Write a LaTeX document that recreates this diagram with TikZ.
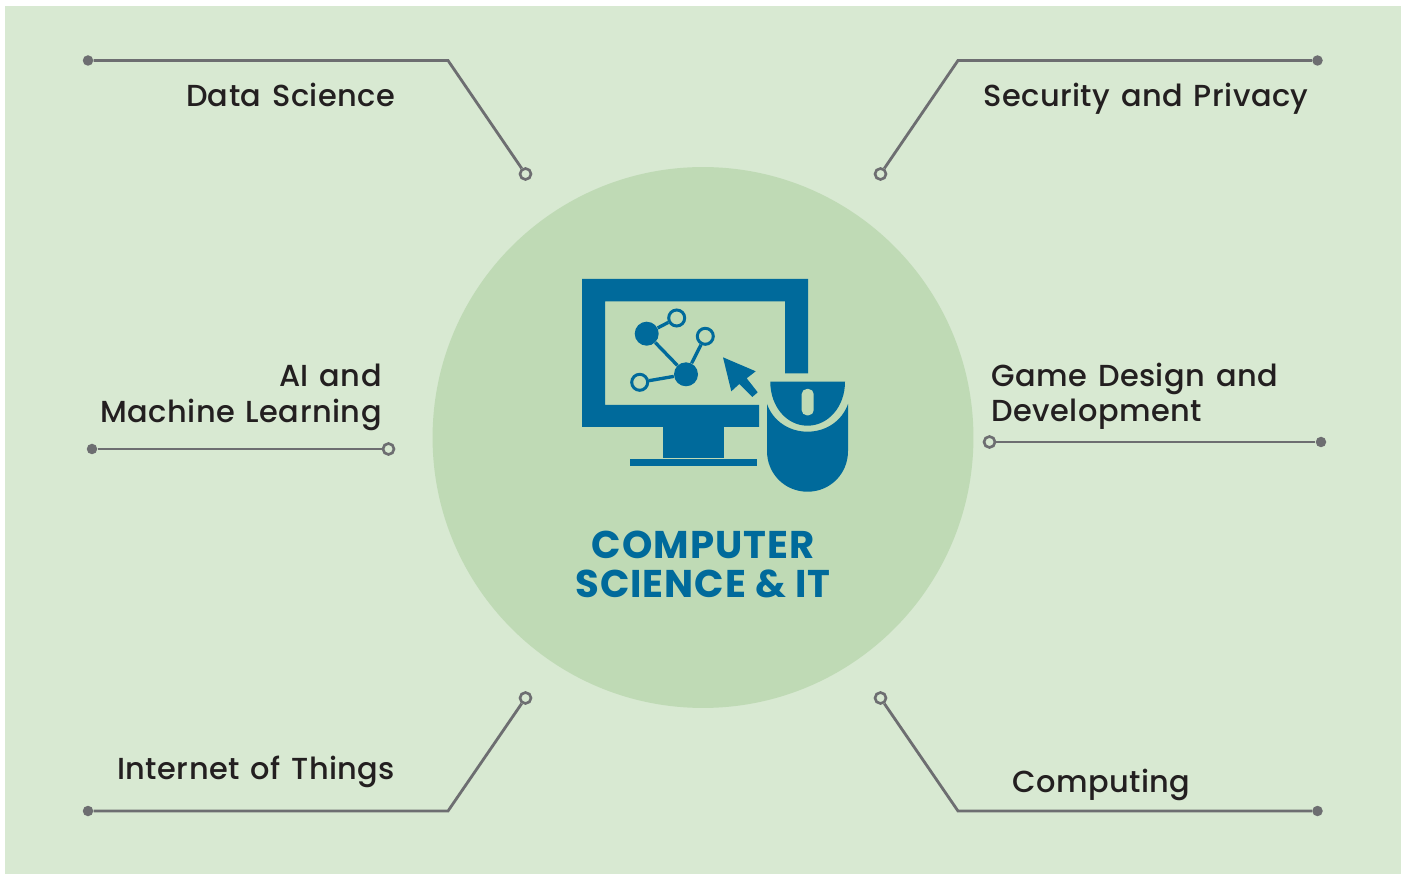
\documentclass[tikz,border=0pt]{standalone}
\usepackage{fontspec}
\setmainfont{Poppins}
\newfontfamily\topicfont[LetterSpace=1.5,WordSpace=1.3]{Poppins Medium}
\newfontfamily\titlefont[LetterSpace=2.5]{Poppins}
\usepackage{xcolor}
\definecolor{pagegreen}{HTML}{D8E9D2}
\definecolor{discgreen}{HTML}{BFDAB5}
\definecolor{iconblue}{HTML}{006A9B}
\definecolor{linegray}{HTML}{6D6E71}
\definecolor{labelblack}{HTML}{231F20}

\begin{document}
\begin{tikzpicture}[x=0.02cm, y=-0.02cm,
    dot/.style = {circle, fill=linegray, inner sep=0pt,
        minimum size = 0.21cm},
    ring/.style = {circle, draw=linegray, fill=pagegreen, line width=1.5pt,
        inner sep=0pt, minimum size = 0.22cm},
    link/.style = {draw=linegray, line width=1.6pt},
    topic/.style = {text=labelblack, font=\topicfont\fontsize{17.3}{20.4}\selectfont, inner sep=0pt},
    hub/.style = {circle, fill=iconblue, inner sep=0pt,
        minimum size = 0.48cm},
    leaf/.style = {circle, draw=iconblue, fill=discgreen, line width=1.7pt,
        inner sep=0pt, minimum size = 0.32cm},
    spoke/.style = {draw=iconblue, line width=1.9pt},
    title/.style = {text=iconblue, font=\titlefont\fontsize{22}{22}\selectfont\bfseries, inner sep=0pt}]

\useasboundingbox (0,0) rectangle (1403,874);

% Background
\fill[pagegreen] (5,6) rectangle (1401,874);
\fill[discgreen] (703,437.5) circle(5.41cm);

% Data Science
\node[dot] (dataDot) at (88,60.5) {};
\coordinate (dataBend) at (448,60.5);
\node[ring] (dataRing) at (525.5,174) {};
\draw[link] (dataDot) -- (dataBend) -- (dataRing);
\node[topic,anchor=base east] (dataText) at (395.5,106.5) {Data Science};

% Security and Privacy
\node[dot] (secDot) at (1317.5,60.5) {};
\coordinate (secBend) at (958,60.5);
\node[ring] (secRing) at (880.5,174) {};
\draw[link] (secDot) -- (secBend) -- (secRing);
\node[topic,anchor=base west] (secText) at (983,106.5) {Security and Privacy};

% AI and Machine Learning
\node[dot] (aiDot) at (92,449) {};
\node[ring] (aiRing) at (388.5,449) {};
\draw[link] (aiDot) -- (aiRing);
\node[topic,anchor=base east] (aiTextA) at (382,386.5) {AI and};
\node[topic,anchor=base east] (aiTextB) at (382,422.5) {Machine Learning};

% Game Design and Development
\node[dot] (gameDot) at (1321,442) {};
\node[ring] (gameRing) at (989.5,442) {};
\draw[link] (gameDot) -- (gameRing);
\node[topic,anchor=base west] (gameTextA) at (991,386.5) {Game Design and};
\node[topic,anchor=base west] (gameTextB) at (991,421.5) {Development};

% Internet of Things
\node[dot] (iotDot) at (88,811) {};
\coordinate (iotBend) at (448,811);
\node[ring] (iotRing) at (525.5,698) {};
\draw[link] (iotDot) -- (iotBend) -- (iotRing);
\node[topic,anchor=base east] (iotText) at (395.5,779) {Internet of Things};

% Computing
\node[dot] (compDot) at (1317.5,811) {};
\coordinate (compBend) at (958,811);
\node[ring] (compRing) at (880.5,698) {};
\draw[link] (compDot) -- (compBend) -- (compRing);
\node[topic,anchor=base west] (compText) at (1012,792) {Computing};

% Monitor
\fill[iconblue] (582,279) -- (808,279) -- (808,373.5) -- (785,373.5) -- (785,301.5)
    -- (605,301.5) -- (605,405) -- (759,405) -- (759,427) -- (582,427) -- cycle;
\fill[iconblue] (663,427) rectangle (724,458);
\fill[iconblue] (630,459.5) rectangle (757,466);

% Graph on the screen
\node[hub] (hubA) at (646.7,333.7) {};
\node[hub] (hubB) at (686,374.3) {};
\node[leaf] (leafA) at (676.7,318) {};
\node[leaf] (leafB) at (705.3,336.3) {};
\node[leaf] (leafC) at (639.7,382.3) {};
\draw[spoke] (hubA) -- (hubB);
\draw[spoke] (hubA) -- (leafA);
\draw[spoke] (hubB) -- (leafB);
\draw[spoke] (hubB) -- (leafC);

% Cursor
\fill[iconblue] (723,357.3) -- (755.7,371.3) -- (746.7,378.3) -- (757.7,392.3)
    -- (752.3,397) -- (739.3,384) -- (731.3,391.3) -- cycle;

% Mouse
\fill[iconblue] (770.3,381.7) -- (845,381.7)
    .. controls (845,407) and (828,425.7) .. (807.5,425.7)
    .. controls (787,425.7) and (770.3,407) .. (770.3,381.7) -- cycle;
\fill[discgreen, rounded corners=2.9pt] (801.7,389) rectangle (813.7,415.3);
\fill[iconblue] (767,404) .. controls (773,421) and (789,431.7) .. (807.5,431.7)
    .. controls (826,431.7) and (842,421) .. (848,404) -- (848,451)
    .. controls (848,474) and (830,491.7) .. (807.5,491.7)
    .. controls (785,491.7) and (767,474) .. (767,451) -- cycle;

% Title
\node[title] (titleA) at (703,544.5) {COMPUTER};
\node[title] (titleB) at (703,583.5) {SCIENCE \& IT};
\end{tikzpicture}
\end{document}
